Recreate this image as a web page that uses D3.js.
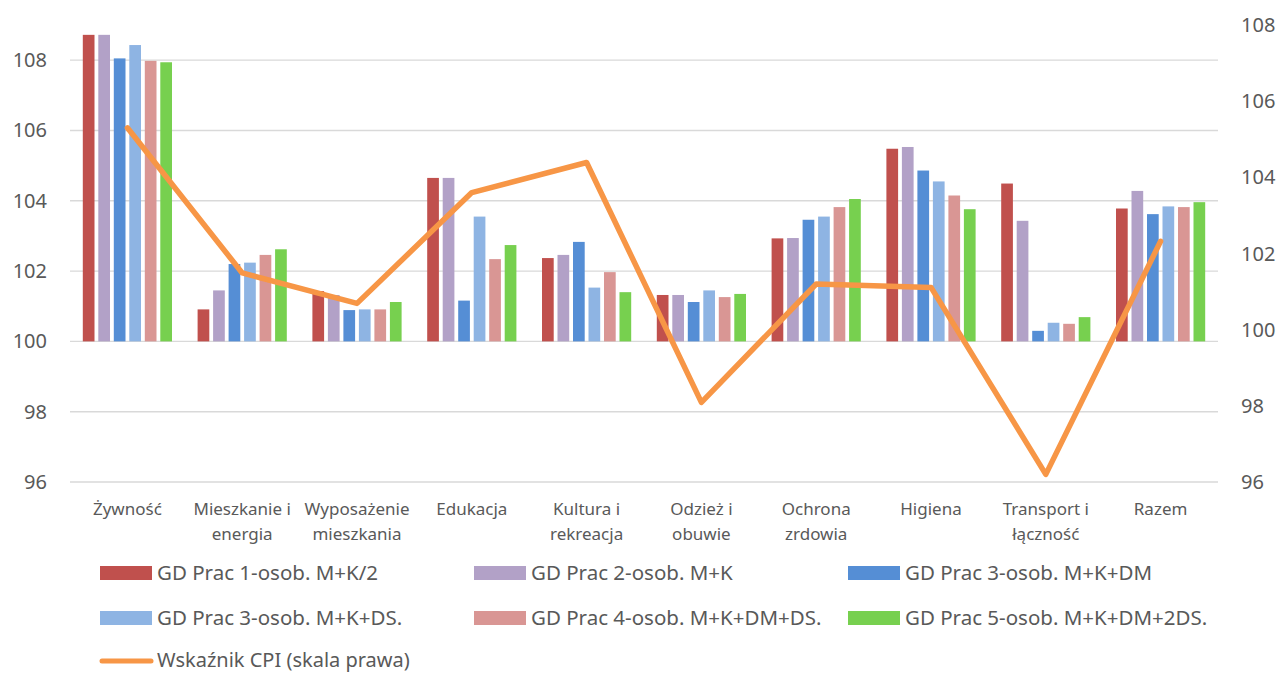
<!doctype html>
<html>
  <head>
    <meta charset="utf-8">
    <title>Wskaźniki cen wg typów gospodarstw</title>
    <script src="https://cdnjs.cloudflare.com/ajax/libs/d3/7.8.5/d3.min.js"></script>
    <style>
      body { margin: 0; background: #fff; }
      text { font-family: "Noto Sans", sans-serif; fill: #595959; }
    </style>
  </head>
  <body>
    <div id="chart"></div>
    <script>
      // data
      const categories = ["Żywność", "Mieszkanie i\nenergia", "Wyposażenie\nmieszkania", "Edukacja",
        "Kultura i\nrekreacja", "Odzież i\nobuwie", "Ochrona\nzrdowia", "Higiena", "Transport i\nłączność", "Razem"];

      const seriesNames = ["GD Prac 1-osob. M+K/2", "GD Prac 2-osob. M+K", "GD Prac 3-osob. M+K+DM",
        "GD Prac 3-osob. M+K+DS.", "GD Prac 4-osob. M+K+DM+DS.", "GD Prac 5-osob. M+K+DM+2DS."];

      const s1 = [108.72, 100.91, 101.43, 104.65, 102.37, 101.32, 102.93, 105.48, 104.49, 103.78];
      const s2 = [108.72, 101.45, 101.32, 104.65, 102.46, 101.32, 102.94, 105.53, 103.43, 104.28];
      const s3 = [108.05, 102.20, 100.89, 101.16, 102.83, 101.12, 103.46, 104.86, 100.30, 103.62];
      const s4 = [108.43, 102.24, 100.91, 103.55, 101.53, 101.45, 103.55, 104.55, 100.53, 103.84];
      const s5 = [107.98, 102.46, 100.91, 102.34, 101.97, 101.26, 103.82, 104.15, 100.50, 103.82];
      const s6 = [107.94, 102.62, 101.12, 102.74, 101.40, 101.35, 104.05, 103.76, 100.69, 103.96];

      const cpiName = "Wskaźnik CPI (skala prawa)";
      const cpi = [105.30, 101.49, 100.69, 103.60, 104.39, 98.09, 101.20, 101.11, 96.20, 102.32];

      const leftTicks = [96, 98, 100, 102, 104, 106, 108];
      const rightTicks = [96, 98, 100, 102, 104, 106, 108];

      const colors = ["#C0504D", "#B2A1C7", "#558ED5", "#8EB4E3", "#D99694", "#77D04F"];
      const cpiColor = "#F79646";

      const allSeries = [s1, s2, s3, s4, s5, s6];

      const width = 1279, height = 673;
      const plotL = 70, plotR = 1218, plotT = 25, plotB = 482;

      const svg = d3.select('#chart').append('svg')
        .attr('width', width)
        .attr('height', height);

      // scales
      const x0 = d3.scaleBand().domain(categories).range([plotL, plotR])
        .paddingInner(0.223).paddingOuter(0.1115);
      const x1 = d3.scaleBand().domain(d3.range(seriesNames.length))
        .range([0, x0.bandwidth()]).paddingInner(0.245).paddingOuter(0);
      const yL = d3.scaleLinear().domain([96, 109]).range([plotB, plotT]);
      const yR = d3.scaleLinear().domain([96, 108]).range([plotB, plotT]);

      // gridlines (left axis)
      svg.append('g').selectAll('line')
        .data(leftTicks)
        .join('line')
        .attr('x1', plotL).attr('x2', plotR)
        .attr('y1', d => yL(d)).attr('y2', d => yL(d))
        .style('stroke', '#D9D9D9')
        .style('stroke-width', 1.4);

      // left axis labels
      svg.append('g').selectAll('text')
        .data(leftTicks)
        .join('text')
        .attr('x', 47)
        .attr('y', d => yL(d))
        .attr('dy', '0.35em')
        .style('text-anchor', 'end')
        .style('font-size', '20px')
        .text(d => d);

      // right axis labels
      svg.append('g').selectAll('text')
        .data(rightTicks)
        .join('text')
        .attr('x', 1241)
        .attr('y', d => yR(d))
        .attr('dy', '0.35em')
        .style('font-size', '20px')
        .text(d => d);

      // bars, starting at 100 where the category axis crosses
      const groups = svg.append('g').selectAll('g')
        .data(categories)
        .join('g')
        .attr('transform', d => `translate(${x0(d)},0)`);

      groups.selectAll('rect')
        .data((c, ci) => allSeries.map((s, si) => ({ si: si, v: s[ci] })))
        .join('rect')
        .attr('x', d => x1(d.si))
        .attr('width', x1.bandwidth())
        .attr('y', d => yL(Math.max(d.v, 100)))
        .attr('height', d => Math.abs(yL(d.v) - yL(100)))
        .style('fill', d => colors[d.si]);

      // CPI line on the right axis
      const line = d3.line()
        .x((d, i) => x0(categories[i]) + x0.bandwidth() / 2)
        .y(d => yR(d));

      svg.append('path')
        .datum(cpi)
        .attr('d', line)
        .style('fill', 'none')
        .style('stroke', cpiColor)
        .style('stroke-width', 5.5)
        .style('stroke-linejoin', 'round')
        .style('stroke-linecap', 'round');

      // category labels
      const catLabels = svg.append('g').selectAll('text')
        .data(categories)
        .join('text')
        .attr('x', d => x0(d) + x0.bandwidth() / 2)
        .attr('y', 515)
        .style('text-anchor', 'middle')
        .style('font-size', '17px');

      catLabels.selectAll('tspan')
        .data(d => d.split('\n'))
        .join('tspan')
        .attr('x', function() { return this.parentNode.getAttribute('x'); })
        .attr('dy', (d, i) => i === 0 ? 0 : 24.5)
        .text(d => d);

      // legend
      const legend = svg.append('g');
      seriesNames.forEach((name, i) => {
        const lx = 100 + (i % 3) * 374;
        const ly = 573 + Math.floor(i / 3) * 45;
        legend.append('rect')
          .attr('x', lx).attr('y', ly - 7)
          .attr('width', 52).attr('height', 14)
          .style('fill', colors[i]);
        legend.append('text')
          .attr('x', lx + 57).attr('y', ly + 7)
          .style('font-size', '20.5px')
          .text(name);
      });

      legend.append('line')
        .attr('x1', 102).attr('x2', 151)
        .attr('y1', 661).attr('y2', 661)
        .style('stroke', cpiColor)
        .style('stroke-width', 5)
        .style('stroke-linecap', 'round');
      legend.append('text')
        .attr('x', 157).attr('y', 667)
        .style('font-size', '20px')
        .text(cpiName);
    </script>
  </body>
</html>
